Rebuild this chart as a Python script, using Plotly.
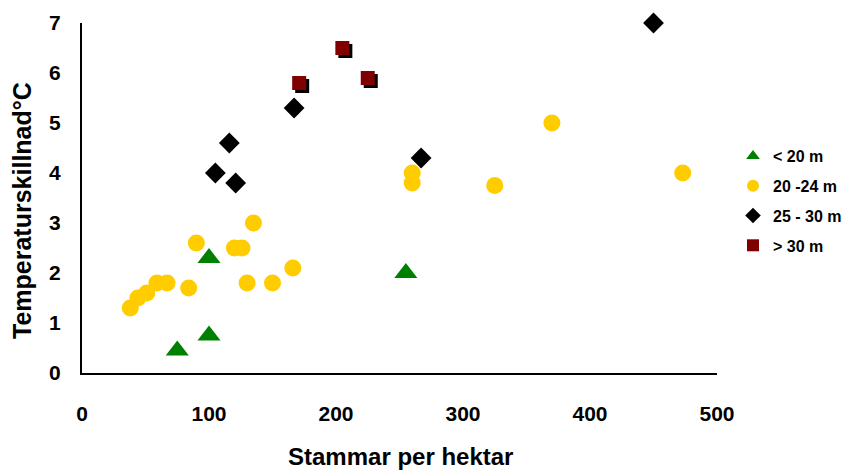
import plotly.graph_objects as go

# ---- data ----
tri_x = [75, 100, 100, 255]
tri_y = [0.45, 0.75, 2.3, 2.0]

circ_x = [38, 44, 51, 59, 67, 84, 90, 120, 126, 135, 130, 150, 166, 370, 260, 260, 325, 473]
circ_y = [1.3, 1.5, 1.6, 1.8, 1.8, 1.7, 2.6, 2.5, 2.5, 3.0, 1.8, 1.8, 2.1, 5.0, 4.0, 3.8, 3.75, 4.0]

dia_x = [116, 105, 121, 167, 267, 450]
dia_y = [4.6, 4.0, 3.8, 5.3, 4.3, 7.0]

sq_x = [171, 205, 225]
sq_y = [5.8, 6.5, 5.9]

series_names = ["< 20 m", "20 -24 m", "25 - 30 m", "> 30 m"]
x_ticks = [0, 100, 200, 300, 400, 500]
y_ticks = [0, 1, 2, 3, 4, 5, 6, 7]
x_title = "Stammar per hektar"
y_title = "Temperaturskillnad°C"

FONT = "Liberation Sans, Arial, sans-serif"
W, H = 849, 470
L, R, T, B = 82, 100, 20, 94
PW = W - L - R  # 667
PH = H - T - B  # 356

fig = go.Figure()

# shadow of the dark red squares (drawn on an offset, invisible axis pair)
fig.add_trace(go.Scatter(x=sq_x, y=sq_y, mode="markers", xaxis="x", yaxis="y",
                         marker=dict(symbol="square", size=14, color="#000000"),
                         showlegend=False, hoverinfo="skip", cliponaxis=False))

fig.add_trace(go.Scatter(x=tri_x, y=tri_y, mode="markers", name=series_names[0],
                         xaxis="x2", yaxis="y2", legendgroup="a", cliponaxis=False,
                         marker=dict(symbol="triangle-up", size=20, color="#008000")))
fig.add_trace(go.Scatter(x=circ_x, y=circ_y, mode="markers", name=series_names[1],
                         xaxis="x2", yaxis="y2", legendgroup="b", cliponaxis=False,
                         marker=dict(symbol="circle", size=17, color="#FFCC00")))
fig.add_trace(go.Scatter(x=dia_x, y=dia_y, mode="markers", name=series_names[2],
                         xaxis="x2", yaxis="y2", legendgroup="c", cliponaxis=False,
                         marker=dict(symbol="diamond", size=16, color="#000000")))
fig.add_trace(go.Scatter(x=sq_x, y=sq_y, mode="markers", name=series_names[3],
                         xaxis="x2", yaxis="y2", legendgroup="d", cliponaxis=False,
                         marker=dict(symbol="square", size=14, color="#800000")))

hidden = dict(visible=False, fixedrange=True)
fig.update_layout(
    width=W, height=H,
    margin=dict(l=L, r=R, t=T, b=B, pad=0, autoexpand=False),
    paper_bgcolor="white",
    plot_bgcolor="rgba(0,0,0,0)",
    font=dict(family=FONT, color="black"),
    xaxis=dict(range=[0, 500], domain=[3 / PW, (635 + 3) / PW], anchor="y", **hidden),
    yaxis=dict(range=[0, 7], domain=[0, 350 / PH], anchor="x", **hidden),
    xaxis2=dict(range=[0, 500], domain=[0, 635 / PW], anchor="y2", automargin=False,
                tickvals=x_ticks, ticktext=[str(v) for v in x_ticks],
                showgrid=False, zeroline=False, showline=True, linecolor="black",
                linewidth=2, ticks="", ticklabelstandoff=21,
                tickfont=dict(family=FONT, size=21, color="black", weight="bold")),
    yaxis2=dict(range=[0, 7], domain=[3 / PH, 353 / PH], anchor="x2", automargin=False,
                tickvals=y_ticks, ticktext=[str(v) for v in y_ticks],
                showgrid=False, zeroline=False, showline=True, linecolor="black",
                linewidth=2, ticks="", ticklabelstandoff=15,
                tickfont=dict(family=FONT, size=21, color="black", weight="bold")),
    legend=dict(x=(733 - L) / PW, y=(H - B - 139) / PH, xanchor="left", yanchor="top",
                font=dict(family=FONT, size=16, color="black", weight="bold"),
                bgcolor="rgba(0,0,0,0)", tracegroupgap=6, itemsizing="constant"),
    annotations=[
        dict(text=x_title, xref="paper", yref="paper",
             x=(400 - L) / PW, y=(H - B - 456) / PH, xanchor="center", yanchor="middle",
             showarrow=False, font=dict(family=FONT, size=24, color="black", weight="bold")),
        dict(text=y_title, xref="paper", yref="paper", textangle=-90,
             x=(22 - L) / PW, y=(H - B - 211) / PH, xanchor="center", yanchor="middle",
             showarrow=False, font=dict(family=FONT, size=25, color="black", weight="bold")),
    ],
)

fig.write_html("out.html", config={"displayModeBar": False},
               post_script="document.body.style.margin='0';document.body.style.padding='0';")
